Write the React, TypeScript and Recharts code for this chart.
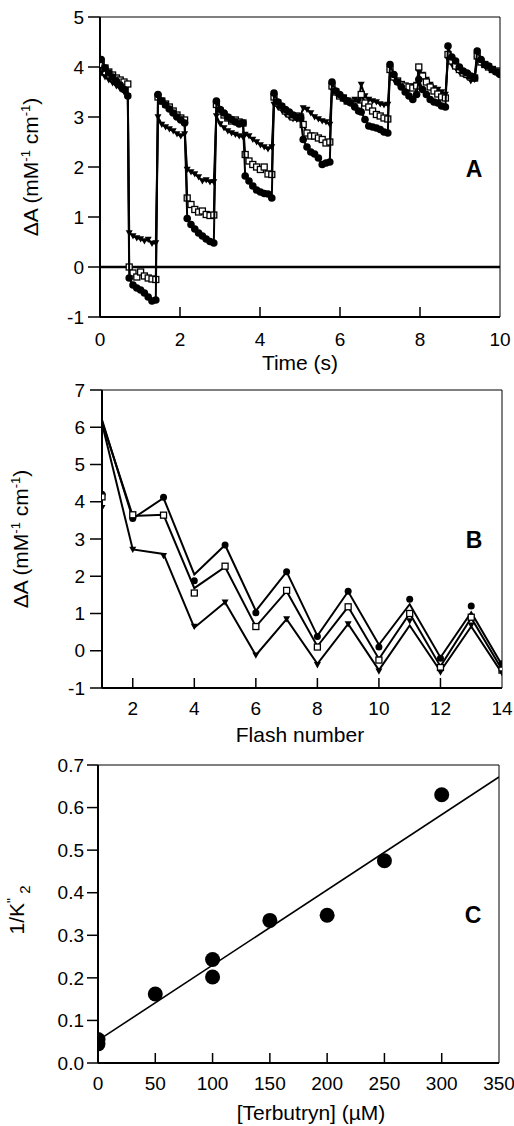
import { ComposedChart, ReferenceLine, Scatter, XAxis, YAxis } from 'recharts';

const FONT = '"Liberation Sans", Arial, Helvetica, sans-serif';

// Panel A: absorbance transients, one segment of samples after each flash
const FLASH_T = [0.03, 0.73, 1.45, 2.18, 2.91, 3.63, 4.35, 5.08, 5.8, 6.53, 7.25, 7.97, 8.7, 9.43];
const SAMPLE_DT = 0.095;

const A_CIRCLE = [
  [4.15, 3.98, 3.88, 3.8, 3.72, 3.64, 3.55, 3.42],
  [-0.22, -0.36, -0.42, -0.46, -0.52, -0.6, -0.68, -0.66],
  [3.45, 3.32, 3.24, 3.16, 3.08, 3.0, 2.94, 2.88],
  [0.97, 0.85, 0.76, 0.68, 0.62, 0.56, 0.51, 0.48],
  [3.32, 3.15, 3.08, 3.0, 2.95, 2.9, 2.86, 2.88],
  [1.82, 1.72, 1.62, 1.54, 1.5, 1.47, 1.46, 1.38],
  [3.48, 3.3, 3.22, 3.15, 3.1, 3.04, 3.0, 2.98],
  [2.55, 2.4, 2.3, 2.26, 2.18, 2.05, 2.08, 2.1],
  [3.7, 3.52, 3.45, 3.38, 3.32, 3.28, 3.2, 3.12],
  [3.1, 2.95, 2.82, 2.8, 2.78, 2.75, 2.7, 2.68],
  [4.05, 3.85, 3.7, 3.6, 3.5, 3.42, 3.35, 3.45],
  [3.75, 3.55, 3.45, 3.35, 3.3, 3.28, 3.22, 3.2],
  [4.42, 4.2, 4.12, 4.0, 3.92, 3.88, 3.82, 3.78],
  [4.32, 4.15, 4.05, 4.02, 3.95, 3.9, 3.85],
];

const A_SQUARE = [
  [4.05, 3.98, 3.9, 3.84, 3.78, 3.74, 3.7, 3.66],
  [0.0, -0.12, -0.2, -0.1, -0.18, -0.22, -0.24, -0.25],
  [3.4, 3.32, 3.26, 3.2, 3.12, 3.04, 2.98, 2.94],
  [1.38, 1.25, 1.15, 1.1, 1.12, 1.05, 1.03, 1.04],
  [3.25, 3.12, 3.04, 2.98, 2.92, 2.94, 2.9, 2.88],
  [2.25, 2.12, 2.05, 2.0, 1.95, 2.0, 1.86, 1.85],
  [3.4, 3.28, 3.2, 3.12, 3.06, 3.0, 3.02, 2.98],
  [2.85, 2.68, 2.62, 2.62, 2.58, 2.55, 2.48, 2.5],
  [3.62, 3.5, 3.42, 3.38, 3.32, 3.3, 3.25, 3.22],
  [3.45, 3.28, 3.2, 3.12, 3.05, 3.02, 2.98, 2.96],
  [3.95, 3.8, 3.72, 3.65, 3.62, 3.6, 3.58, 3.62],
  [4.0, 3.82, 3.7, 3.6, 3.52, 3.46, 3.4, 3.38],
  [4.25, 4.12, 4.02, 3.95, 3.88, 3.85, 3.8, 3.78],
  [4.22, 4.1, 4.05, 4.0, 3.95, 3.92, 3.88],
];

const A_TRIANGLE = [
  [3.88, 3.8, 3.74, 3.68, 3.62, 3.56, 3.5, 3.42],
  [0.68, 0.62, 0.58, 0.56, 0.52, 0.55, 0.47, 0.48],
  [3.0, 2.85, 2.8, 2.76, 2.72, 2.66, 2.62, 2.66],
  [1.95, 1.9, 1.86, 1.8, 1.72, 1.74, 1.7, 1.7],
  [3.02, 2.86, 2.78, 2.72, 2.68, 2.65, 2.62, 2.6],
  [2.65, 2.62, 2.55, 2.5, 2.44, 2.4, 2.36, 2.4],
  [3.25, 3.2, 3.14, 3.06, 3.0, 2.96, 2.95, 3.02],
  [3.18, 3.15, 3.08, 3.0, 2.96, 2.92, 2.9, 2.85],
  [3.55, 3.48, 3.42, 3.36, 3.32, 3.3, 3.35, 3.32],
  [3.65, 3.42, 3.35, 3.32, 3.3, 3.26, 3.24, 3.25],
  [3.9, 3.75, 3.68, 3.62, 3.58, 3.55, 3.62, 3.65],
  [3.9, 3.85, 3.75, 3.65, 3.58, 3.55, 3.5, 3.45],
  [4.15, 4.05, 3.98, 3.9, 3.85, 3.8, 3.72, 3.75],
  [4.15, 4.08, 4.02, 3.98, 3.94, 3.9, 3.87],
];

const A_X_TICKS = [0, 2, 4, 6, 8, 10];
const A_Y_TICKS = [-1, 0, 1, 2, 3, 4, 5];

// Panel B: flash-number dependence (markers = data, lines = fit)
const B_FLASH = [1, 2, 3, 4, 5, 6, 7, 8, 9, 10, 11, 12, 13, 14];
const B_CIRCLE = [4.2, 3.55, 4.12, 1.88, 2.84, 1.02, 2.12, 0.38, 1.6, 0.1, 1.38, -0.2, 1.2, -0.35];
const B_SQUARE = [4.13, 3.65, 3.64, 1.55, 2.27, 0.65, 1.62, 0.1, 1.18, -0.25, 1.0, -0.45, 0.9, -0.52];
const B_TRIANGLE = [3.84, 2.72, 2.55, 0.65, 1.3, -0.12, 0.85, -0.38, 0.72, -0.55, 0.8, -0.58, 0.68, -0.6];
const B_FIT_CIRCLE = [6.2, 3.55, 4.1, 2.05, 2.84, 1.07, 2.12, 0.4, 1.59, 0.16, 1.25, -0.18, 1.03, -0.38];
const B_FIT_SQUARE = [6.15, 3.62, 3.65, 1.68, 2.25, 0.65, 1.6, 0.12, 1.18, -0.22, 1.0, -0.42, 0.88, -0.5];
const B_FIT_TRIANGLE = [6.1, 2.72, 2.6, 0.62, 1.3, -0.12, 0.85, -0.35, 0.72, -0.52, 0.68, -0.55, 0.65, -0.6];
const B_X_TICKS = [2, 4, 6, 8, 10, 12, 14];
const B_Y_TICKS = [-1, 0, 1, 2, 3, 4, 5, 6, 7];

// Panel C: 1/K''2 vs terbutryn
const C_CONC = [0, 0, 50, 100, 100, 150, 200, 250, 300];
const C_INV_K = [0.055, 0.045, 0.162, 0.243, 0.202, 0.335, 0.347, 0.475, 0.63];
const C_FIT_CONC = [0, 350];
const C_FIT_INV_K = [0.053, 0.672];
const C_X_TICKS = [0, 50, 100, 150, 200, 250, 300, 350];
const C_Y_TICKS = [0, 0.1, 0.2, 0.3, 0.4, 0.5, 0.6, 0.7];

const toTrace = (segments: number[][]) =>
  segments.flatMap((seg, k) => seg.map((v, i) => ({ x: FLASH_T[k] + i * SAMPLE_DT, y: v })));

const zipXY = (xs: number[], ys: number[]) => xs.map((x, i) => ({ x, y: ys[i] }));

const circleDot = (r: number) => (p: any) => <circle cx={p.cx} cy={p.cy} r={r} fill="#000" />;
const squareDot = (s: number) => (p: any) => (
  <rect x={p.cx - s / 2} y={p.cy - s / 2} width={s} height={s} fill="#fff" stroke="#000" strokeWidth={1.3} />
);
const triangleDot = (s: number) => (p: any) => (
  <path
    d={`M${p.cx - s / 2},${p.cy - s * 0.4}L${p.cx + s / 2},${p.cy - s * 0.4}L${p.cx},${p.cy + s * 0.5}Z`}
    fill="#000"
  />
);
const noDot = () => <g />;

const tickStyle = { fontSize: 19, fill: '#000', fontFamily: FONT };
const axisLine = { stroke: '#000', strokeWidth: 2 };
const tickLine = { stroke: '#000', strokeWidth: 1.5 };
const line = { stroke: '#000', strokeWidth: 2 };

// bottom ticks point into the plot; labels sit below the axis
function inwardTick(labelDy: number, noMark: number[], fmt: (v: number) => string) {
  return (p: any) => {
    const v = p.payload.value;
    return (
      <g>
        {!noMark.includes(v) && (
          <line x1={p.x} x2={p.x} y1={p.y} y2={p.y - 10} stroke="#000" strokeWidth={1.5} />
        )}
        <text x={p.x} y={p.y + labelDy} textAnchor="middle" dominantBaseline="central" {...tickStyle}>
          {fmt(v)}
        </text>
      </g>
    );
  };
}

function PanelA() {
  return (
    <ComposedChart width={514} height={370} margin={{ top: 17, right: 14, bottom: 0, left: 0 }}>
      <XAxis
        type="number"
        dataKey="x"
        domain={[0, 10]}
        ticks={A_X_TICKS}
        height={53}
        axisLine={axisLine}
        tickLine={false}
        tickSize={0}
        tickMargin={0}
        tick={inwardTick(22, [0, 10], (v) => String(v))}
        allowDataOverflow
      />
      <YAxis
        type="number"
        dataKey="y"
        domain={[-1, 5]}
        ticks={A_Y_TICKS}
        width={100}
        axisLine={axisLine}
        tickLine={tickLine}
        tickSize={12}
        tickMargin={4}
        tick={tickStyle}
        allowDataOverflow
      />
      <ReferenceLine y={5} stroke="#000" strokeWidth={1} />
      <ReferenceLine x={10} stroke="#000" strokeWidth={1} />
      <ReferenceLine y={0} stroke="#000" strokeWidth={2.5} />
      <Scatter data={toTrace(A_TRIANGLE)} line={line} shape={triangleDot(7)} isAnimationActive={false} />
      <Scatter data={toTrace(A_SQUARE)} line={line} shape={squareDot(6)} isAnimationActive={false} />
      <Scatter data={toTrace(A_CIRCLE)} line={line} shape={circleDot(3.8)} isAnimationActive={false} />
    </ComposedChart>
  );
}

function PanelB() {
  return (
    <ComposedChart width={514} height={400} margin={{ top: 50, right: 12, bottom: 0, left: 0 }}>
      <XAxis
        type="number"
        dataKey="x"
        domain={[1, 14]}
        ticks={B_X_TICKS}
        height={52}
        axisLine={axisLine}
        tickLine={false}
        tickSize={0}
        tickMargin={0}
        tick={inwardTick(20, [14], (v) => String(v))}
        allowDataOverflow
      />
      <YAxis
        type="number"
        dataKey="y"
        domain={[-1, 7]}
        ticks={B_Y_TICKS}
        width={102}
        axisLine={axisLine}
        tickLine={tickLine}
        tickSize={12}
        tickMargin={5}
        tick={tickStyle}
        allowDataOverflow
      />
      <ReferenceLine y={7} stroke="#000" strokeWidth={1} />
      <ReferenceLine x={14} stroke="#000" strokeWidth={1} />
      <Scatter data={zipXY(B_FLASH, B_FIT_TRIANGLE)} line={{ stroke: '#000', strokeWidth: 2 }} shape={noDot} isAnimationActive={false} />
      <Scatter data={zipXY(B_FLASH, B_FIT_SQUARE)} line={{ stroke: '#000', strokeWidth: 2 }} shape={noDot} isAnimationActive={false} />
      <Scatter data={zipXY(B_FLASH, B_FIT_CIRCLE)} line={{ stroke: '#000', strokeWidth: 2 }} shape={noDot} isAnimationActive={false} />
      <Scatter data={zipXY(B_FLASH, B_CIRCLE)} shape={circleDot(3.5)} isAnimationActive={false} />
      <Scatter data={zipXY(B_FLASH, B_SQUARE)} shape={squareDot(6)} isAnimationActive={false} />
      <Scatter data={zipXY(B_FLASH, B_TRIANGLE)} shape={triangleDot(7)} isAnimationActive={false} />
    </ComposedChart>
  );
}

function PanelC() {
  return (
    <ComposedChart width={514} height={386} margin={{ top: 25, right: 15, bottom: 0, left: 0 }}>
      <XAxis
        type="number"
        dataKey="x"
        domain={[0, 350]}
        ticks={C_X_TICKS}
        height={63}
        axisLine={axisLine}
        tickLine={false}
        tickSize={0}
        tickMargin={0}
        tick={inwardTick(20, [0, 350], (v) => String(v))}
        allowDataOverflow
      />
      <YAxis
        type="number"
        dataKey="y"
        domain={[0, 0.7]}
        ticks={C_Y_TICKS}
        width={98}
        axisLine={axisLine}
        tickLine={tickLine}
        tickSize={11}
        tickMargin={3}
        tick={tickStyle}
        tickFormatter={(v: number) => v.toFixed(1)}
        allowDataOverflow
      />
      <ReferenceLine y={0.7} stroke="#000" strokeWidth={1} />
      <ReferenceLine x={350} stroke="#000" strokeWidth={1} />
      <Scatter data={zipXY(C_FIT_CONC, C_FIT_INV_K)} line={{ stroke: '#000', strokeWidth: 1.6 }} shape={noDot} isAnimationActive={false} />
      <Scatter data={zipXY(C_CONC, C_INV_K)} shape={circleDot(7.5)} isAnimationActive={false} />
    </ComposedChart>
  );
}

function Titles() {
  const t = { fontFamily: FONT, fill: '#000' };
  return (
    <svg width={514} height={1126} style={{ position: 'absolute', left: 0, top: 0, pointerEvents: 'none' }}>
      <text transform="translate(38,167) rotate(-90)" textAnchor="middle" fontSize={21} {...t}>
        ΔA (mM<tspan dy={-8} fontSize={13}>-1</tspan>
        <tspan dy={8}> cm</tspan>
        <tspan dy={-8} fontSize={13}>-1</tspan>
        <tspan dy={8}>)</tspan>
      </text>
      <text x={300} y={370} textAnchor="middle" fontSize={21} {...t}>Time (s)</text>
      <text x={474} y={177} textAnchor="middle" fontSize={23} fontWeight="bold" {...t}>A</text>

      <text transform="translate(28,539) rotate(-90)" textAnchor="middle" fontSize={21} {...t}>
        ΔA (mM<tspan dy={-8} fontSize={13}>-1</tspan>
        <tspan dy={8}> cm</tspan>
        <tspan dy={-8} fontSize={13}>-1</tspan>
        <tspan dy={8}>)</tspan>
      </text>
      <text x={300} y={742} textAnchor="middle" fontSize={21} {...t}>Flash number</text>
      <text x={474} y={548} textAnchor="middle" fontSize={23} fontWeight="bold" {...t}>B</text>

      <text transform="translate(24,910) rotate(-90)" textAnchor="middle" fontSize={21} {...t}>
        1/K<tspan dy={-7} fontSize={14}>"</tspan>
        <tspan dy={13} fontSize={15}> 2</tspan>
      </text>
      <text x={311} y={1120} textAnchor="middle" fontSize={21} {...t}>[Terbutryn] (µM)</text>
      <text x={473} y={923} textAnchor="middle" fontSize={23} fontWeight="bold" {...t}>C</text>
    </svg>
  );
}

export default function App() {
  return (
    <div style={{ position: 'absolute', left: 0, top: 0, width: 514, height: 1126, background: '#fff' }}>
      <div style={{ position: 'absolute', left: 0, top: 0 }}>
        <PanelA />
      </div>
      <div style={{ position: 'absolute', left: 0, top: 340 }}>
        <PanelB />
      </div>
      <div style={{ position: 'absolute', left: 0, top: 740 }}>
        <PanelC />
      </div>
      <Titles />
    </div>
  );
}
